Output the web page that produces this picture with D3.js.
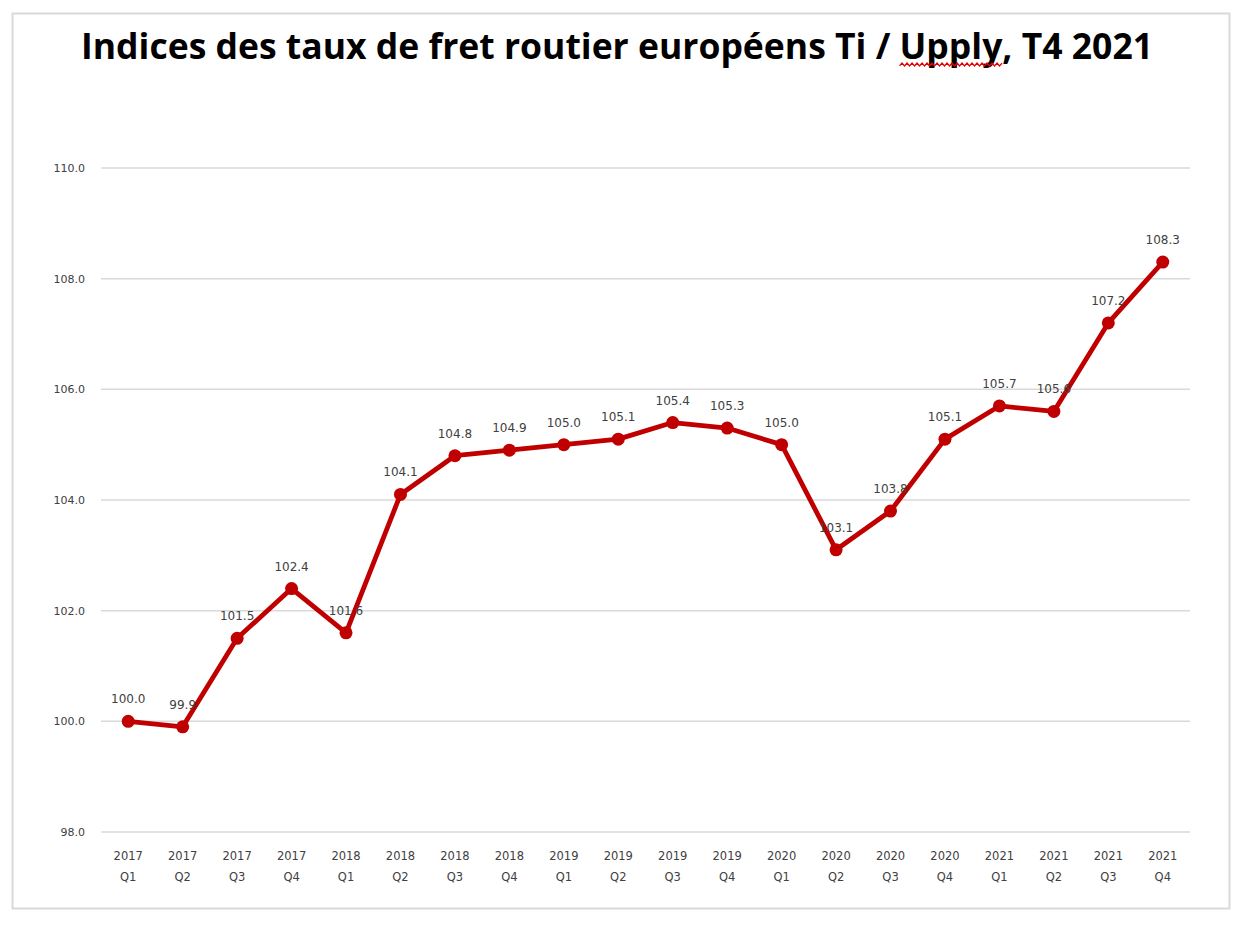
<!DOCTYPE html>
<html><head><meta charset="utf-8">
<script src="https://cdn.jsdelivr.net/npm/d3@7"></script>
<style>
html,body{margin:0;padding:0;background:#fff;}
svg{display:block;}
</style></head>
<body>
<svg id="chart" width="1246" height="928"></svg>
<script>
const years = ["2017","2017","2017","2017","2018","2018","2018","2018","2019","2019","2019","2019","2020","2020","2020","2020","2021","2021","2021","2021"];
const quarters = ["Q1","Q2","Q3","Q4","Q1","Q2","Q3","Q4","Q1","Q2","Q3","Q4","Q1","Q2","Q3","Q4","Q1","Q2","Q3","Q4"];
const values = [100.0, 99.9, 101.5, 102.4, 101.6, 104.1, 104.8, 104.9, 105.0, 105.1, 105.4, 105.3, 105.0, 103.1, 103.8, 105.1, 105.7, 105.6, 107.2, 108.3];
const yTicks = [98, 100, 102, 104, 106, 108, 110];
const titleText = "Indices des taux de fret routier européens Ti / Upply, T4 2021";

(function(){
const categories = years.map((y,i)=>y+" "+quarters[i]);
const svg = d3.select("#chart");

// outer frame
svg.append("rect").attr("x",12.5).attr("y",13.5).attr("width",1217).attr("height",895)
  .attr("fill","#fff").attr("stroke","#d9d9d9").attr("stroke-width",2);

const pL = 101, pR = 1190, pT = 168, pB = 832;
const x = d3.scaleBand().domain(categories).range([pL,pR]);
const y = d3.scaleLinear().domain([98,110]).range([pB,pT]);
const cx = c => x(c) + x.bandwidth()/2;

// gridlines
svg.append("g").selectAll("line").data(yTicks).join("line")
  .attr("x1",pL).attr("x2",pR)
  .attr("y1",d=>y(d)).attr("y2",d=>y(d))
  .attr("stroke","#d9d9d9").attr("stroke-width",1.5);

// y axis labels
const yAxis = d3.axisLeft(y).tickValues(yTicks).tickFormat(d3.format(".1f")).tickSize(0).tickPadding(16);
const gy = svg.append("g").attr("transform",`translate(${pL},0)`).call(yAxis);
gy.select(".domain").remove();
gy.selectAll("text").attr("font-family","'DejaVu Sans', Verdana, sans-serif").attr("font-size",11).attr("fill","#404040");

// x axis labels
const xAxis = d3.axisBottom(x).tickSize(0).tickFormat(()=> "");
const gx = svg.append("g").attr("transform",`translate(0,${pB})`).call(xAxis);
gx.select(".domain").remove();
gx.selectAll(".tick text").each(function(d,i){
  const t = d3.select(this).text(null)
    .attr("font-family","'DejaVu Sans', Verdana, sans-serif").attr("font-size",11.5).attr("fill","#404040")
    .attr("y",28).attr("dy",0);
  t.append("tspan").attr("x",0).attr("y",28).text(years[i]);
  t.append("tspan").attr("x",0).attr("y",49).text(quarters[i]);
});

// line
const line = d3.line().x((d,i)=>cx(categories[i])).y(d=>y(d));
svg.append("path").datum(values).attr("d",line)
  .attr("fill","none").attr("stroke","#c00000").attr("stroke-width",4.8)
  .attr("stroke-linejoin","round");

svg.append("g").selectAll("circle").data(values).join("circle")
  .attr("cx",(d,i)=>cx(categories[i])).attr("cy",d=>y(d)).attr("r",6.5)
  .attr("fill","#c00000");

// data labels
svg.append("g").selectAll("text").data(values).join("text")
  .attr("x",(d,i)=>cx(categories[i])).attr("y",d=>y(d)-18)
  .attr("text-anchor","middle")
  .attr("font-family","'DejaVu Sans', Verdana, sans-serif").attr("font-size",12)
  .attr("fill","#404040")
  .text(d=>d3.format(".1f")(d));

// title
const title = svg.append("text").attr("x",617).attr("y",59)
  .attr("text-anchor","middle")
  .attr("font-family","'Open Sans', sans-serif").attr("font-weight","bold")
  .attr("font-size",36).attr("fill","#000")
  .attr("textLength",1072).attr("lengthAdjust","spacingAndGlyphs")
  .text(titleText);

// spell-check squiggle under "Upply"
const node = title.node();
const idx = titleText.indexOf("Upply");
let sx = 902, ex = 1005;
try {
  const s = node.getStartPositionOfChar(idx);
  const e = node.getEndPositionOfChar(idx+4);
  sx = s.x; ex = e.x;
} catch(err) {}
const pts = [];
const step = 2.5;
for (let xx = sx, k = 0; xx <= ex; xx += step, k++) pts.push([xx, 64.5 + (k%2 ? -1.4 : 1.4)]);
svg.append("path").attr("d", d3.line()(pts))
  .attr("fill","none").attr("stroke","#e00000").attr("stroke-width",1.3);
})();
</script>
</body></html>
